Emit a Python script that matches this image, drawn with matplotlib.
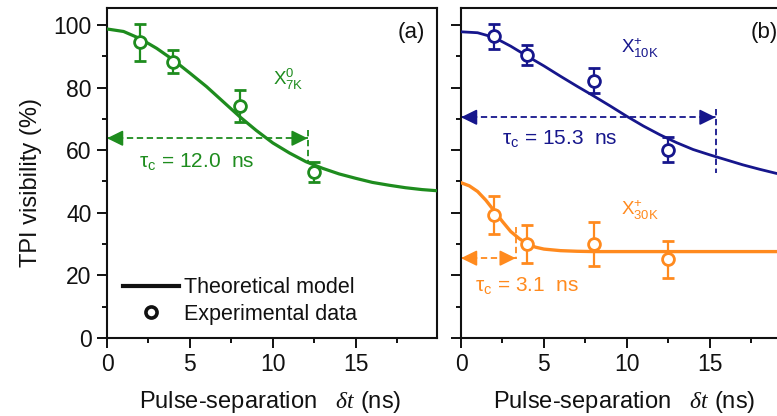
import matplotlib
matplotlib.use("Agg")
import matplotlib.pyplot as plt
from matplotlib.lines import Line2D

plt.rcParams['font.family'] = ['Liberation Sans', 'DejaVu Sans']
plt.rcParams['mathtext.fontset'] = 'custom'
plt.rcParams['mathtext.rm'] = 'Liberation Sans'
plt.rcParams['mathtext.it'] = 'Liberation Serif:italic'
plt.rcParams['mathtext.bf'] = 'Liberation Sans:bold'
plt.rcParams['mathtext.default'] = 'regular'

# ---------------- data ----------------
pulse_sep = [2, 4, 8, 12.5]

vis_x0_7k = [94.4, 88.3, 74.1, 53.0]
err_x0_7k = [6.0, 3.8, 5.0, 3.2]
vis_xp_10k = [96.3, 90.4, 82.2, 60.1]
err_xp_10k = [3.9, 3.3, 3.9, 4.0]
vis_xp_30k = [39.3, 30.0, 30.0, 25.1]
err_xp_30k = [6.0, 6.0, 7.1, 6.0]

model_t = [0, 1, 2, 3, 4, 5, 6, 7, 8, 9, 10, 11, 12, 13, 14, 15, 16, 17, 18, 19, 20]
model_x0_7k = [98.7, 97.9, 95.6, 92.5, 88.8, 84.6, 80.3, 75.5, 70.7, 66.3, 62.3,
               59.1, 56.3, 54.2, 52.4, 51.0, 49.7, 48.8, 48.0, 47.4, 47.0]
model_xp_10k = [97.8, 97.5, 96.0, 93.2, 90.0, 86.9, 83.6, 80.4, 77.3, 74.1, 70.8,
                67.7, 64.9, 62.4, 60.2, 58.5, 56.9, 55.3, 53.9, 52.6, 51.6]
model_t_30k = [0, 0.5, 1, 1.5, 2, 2.5, 3, 3.5, 4, 4.5, 5, 6, 7, 8, 10, 15, 20]
model_xp_30k = [49.6, 48.6, 46.8, 44.0, 40.6, 37.2, 34.0, 31.8, 30.0, 29.0, 28.4,
                27.9, 27.7, 27.6, 27.6, 27.6, 27.6]

# coherence-time markers: (arrow end, arrow height, vertical dash from, to)
tau_x0_7k = (12.1, 63.8, 66.5, 56.3)
tau_xp_10k = (15.35, 70.5, 73.0, 52.6)
tau_xp_30k = (3.3, 25.5, 35.5, 25.2)

x_ticks = [0, 5, 10, 15]
y_ticks = [0, 20, 40, 60, 80, 100]

GREEN = '#1e8c1e'
BLUE = '#16168c'
ORANGE = '#ff8a1e'

W, H = 777, 416
fig = plt.figure(figsize=(W / 100, H / 100), dpi=100)
axw = 330 / W
axh = 330 / H
bottom = 78 / H
ax1 = fig.add_axes([107 / W, bottom, axw, axh])
ax2 = fig.add_axes([461 / W, bottom, axw, axh])

DASH = (0, (3.5, 2.0))


def arrowhead(ax, x, y, direction, color):
    ax.annotate('', xy=(x, y), xytext=(13 * direction, 0), textcoords='offset pixels',
                arrowprops=dict(arrowstyle='-|>,head_length=0.65,head_width=0.32',
                                mutation_scale=15, color=color, lw=1.2,
                                shrinkA=0, shrinkB=0))


def tau_marker(ax, tau, color):
    xe, ya, v0, v1 = tau
    ax.plot([0, xe], [ya, ya], color=color, lw=1.3, ls=DASH, zorder=2)
    ax.plot([xe, xe], [v0, v1], color=color, lw=1.3, ls=DASH, zorder=2)
    arrowhead(ax, 0, ya, +1, color)
    arrowhead(ax, xe, ya, -1, color)


def data(ax, y, e, color):
    ax.errorbar(pulse_sep, y, yerr=e, fmt='o', color=color, mfc='white', mec=color,
                ms=8.5, mew=2.0, elinewidth=1.6, capsize=4.5, capthick=1.6, zorder=4)


for ax in (ax1, ax2):
    ax.set_xlim(0, 19.9)
    ax.set_ylim(0, 105.4)
    ax.set_xticks(x_ticks)
    ax.set_xticks([2.5, 7.5, 12.5, 17.5], minor=True)
    ax.set_yticks(y_ticks)
    ax.set_yticks([10, 30, 50, 70, 90], minor=True)
    ax.tick_params(which='major', direction='out', length=7, width=1.4,
                   labelsize=16.5, pad=4, colors='#111111')
    ax.tick_params(which='minor', direction='out', length=3.5, width=1.4, colors='#111111')
    for s in ax.spines.values():
        s.set_linewidth(1.5)
        s.set_color('#111111')
    ax.set_xlabel(r'Pulse-separation   $\mathit{δt}$ (ns)', fontsize=17, color='#111111')
    ax.xaxis.set_label_coords(0.494, -0.155)
    ax.xaxis.label.set_va('top')

ax1.set_ylabel('TPI visibility (%)', fontsize=17, color='#111111')
ax1.yaxis.set_label_coords(-0.197, 0.47)
ax2.tick_params(axis='y', labelleft=False)

# panel (a)
ax1.plot(model_t, model_x0_7k, color=GREEN, lw=2.3, zorder=3)
data(ax1, vis_x0_7k, err_x0_7k, GREEN)
tau_marker(ax1, tau_x0_7k, GREEN)
ax1.text(1.9, 56.0, r'τ$_c$ = 12.0  ns', color=GREEN, fontsize=15, va='center')
ax1.text(10.0, 80.8, r'X$^{0}_{7K}$', color=GREEN, fontsize=13.5, va='baseline')
ax1.text(0.964, 0.927, '(a)', transform=ax1.transAxes, fontsize=16, ha='right',
         va='center', color='#111111')

handles = [Line2D([], [], color='#111111', lw=3),
           Line2D([], [], ls='none', marker='o', mfc='white', mec='#111111', ms=8, mew=2.6)]
ax1.legend(handles, ['Theoretical model', 'Experimental data'], loc='center left',
           bbox_to_anchor=(0.048, 0.112), frameon=False, fontsize=15.5, handlelength=2.6,
           handletextpad=0.25, labelspacing=0.25, borderpad=0, borderaxespad=0,
           labelcolor='#111111')

# panel (b)
ax2.plot(model_t, model_xp_10k, color=BLUE, lw=2.0, zorder=3)
data(ax2, vis_xp_10k, err_xp_10k, BLUE)
tau_marker(ax2, tau_xp_10k, BLUE)
ax2.text(2.5, 63.3, r'τ$_c$ = 15.3  ns', color=BLUE, fontsize=15, va='center')
ax2.text(9.64, 91.0, r'X$^{+}_{10K}$', color=BLUE, fontsize=13.5, va='baseline')

ax2.plot(model_t_30k, model_xp_30k, color=ORANGE, lw=2.4, zorder=3)
data(ax2, vis_xp_30k, err_xp_30k, ORANGE)
tau_marker(ax2, tau_xp_30k, ORANGE)
ax2.text(0.85, 16.4, r'τ$_c$ = 3.1  ns', color=ORANGE, fontsize=15, va='center')
ax2.text(9.64, 39.3, r'X$^{+}_{30K}$', color=ORANGE, fontsize=13.5, va='baseline')
ax2.text(0.879, 0.927, '(b)', transform=ax2.transAxes, fontsize=16, ha='left',
         va='center', color='#111111')

fig.savefig('out.png', dpi=100)
